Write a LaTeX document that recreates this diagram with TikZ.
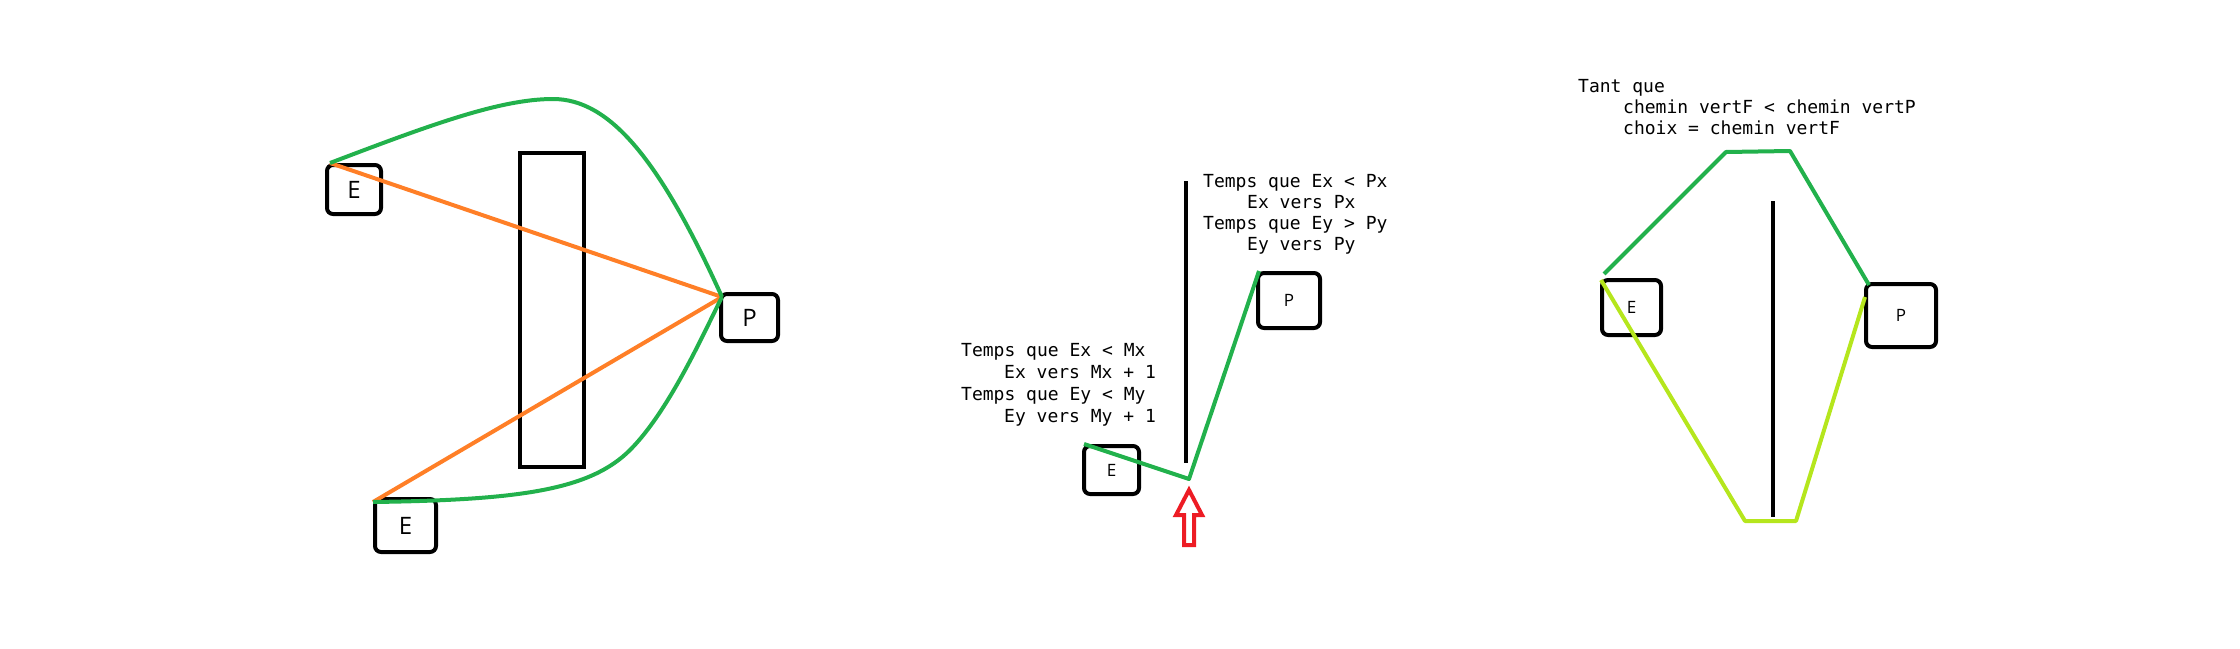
\documentclass[tikz,border=0pt]{standalone}
\usepackage{fontspec}
\setmainfont{Open Sans}
\newfontfamily\codefont{DejaVu Sans Mono}
\definecolor{pgreen}{HTML}{22B14C}
\definecolor{porange}{HTML}{FF7F27}
\definecolor{plime}{HTML}{B5E61D}
\definecolor{pred}{HTML}{ED1C24}
\tikzset{
  box/.style={draw=black, line width=4pt, rounded corners=6pt, inner sep=0pt, text=black},
  bigbox/.style={box, font=\fontsize{24}{24}\selectfont},
  smallbox/.style={box, font=\fontsize{17}{17}\selectfont},
  wall/.style={draw=black, line width=4pt},
  gpath/.style={draw=pgreen, line width=4pt, line join=round},
  opath/.style={draw=porange, line width=4pt},
  lpath/.style={draw=plime, line width=4pt, line join=round},
  code/.style={anchor=base west, inner sep=0pt, font=\codefont\fontsize{18}{21}\selectfont}
}
\begin{document}
\begin{tikzpicture}[x=1pt, y=-1pt]
\useasboundingbox (0,0) rectangle (2240,648);
% ---------- diagram 1 ----------
\node[bigbox, minimum width=54pt, minimum height=49pt] (E1) at (354,189.5) {E};
\node[bigbox, minimum width=61pt, minimum height=53pt] (E2) at (405.5,525.5) {E};
\node[bigbox, minimum width=57pt, minimum height=47pt] (P1) at (749.5,317.5) {P};
\draw[wall] (520,153) rectangle (584,467);
\coordinate (a1) at (330,163);
\coordinate (a2) at (373,502);
\coordinate (ap) at (722,297);
\draw[opath] (a1) -- (ap);
\draw[opath] (a2) -- (ap);
\draw[gpath] (a1) .. controls (430,125) and (500,99) .. (553,99)
  .. controls (610,99) and (660,160) .. (ap);
\draw[gpath] (a2) .. controls (520,500) and (590,490) .. (630,450)
  .. controls (670,410) and (705,330) .. (ap);
% ---------- diagram 2 ----------
\draw[wall] (1186,181) -- (1186,463);
\node[smallbox, minimum width=55pt, minimum height=48pt] (E3) at (1111.5,470) {E};
\node[smallbox, minimum width=62pt, minimum height=55pt] (P3) at (1289,300.5) {P};
\coordinate (b1) at (1084,444);
\coordinate (bm) at (1189,479);
\coordinate (bp) at (1259,271);
\draw[gpath] (b1) -- (bm) -- (bp);
\draw[draw=pred, line width=4pt, line join=miter]
  (1189,490) -- (1202,515) -- (1194,515) -- (1194,545) -- (1184,545) -- (1184,515) -- (1176,515) -- cycle;
\node[code] (ta1) at (1203,187) {Temps que Ex < Px};
\node[code] (ta2) at (1247,208) {Ex vers Px};
\node[code] (ta3) at (1203,229) {Temps que Ey > Py};
\node[code] (ta4) at (1247,250) {Ey vers Py};
\node[code] (tb1) at (961,356) {Temps que Ex < Mx};
\node[code] (tb2) at (1004,378) {Ex vers Mx + 1};
\node[code] (tb3) at (961,400) {Temps que Ey < My};
\node[code] (tb4) at (1004,422) {Ey vers My + 1};
% ---------- diagram 3 ----------
\node[code] (tc1) at (1578,92) {Tant que};
\node[code] (tc2) at (1623,113) {chemin vertF < chemin vertP};
\node[code] (tc3) at (1623,134) {choix = chemin vertF};
\draw[wall] (1773,201) -- (1773,517);
\node[smallbox, minimum width=59pt, minimum height=55pt] (E4) at (1631.5,307.5) {E};
\node[smallbox, minimum width=70pt, minimum height=63pt] (P4) at (1901,315.5) {P};
\coordinate (c1) at (1604,274);
\coordinate (c2) at (1726,152);
\coordinate (c3) at (1790,151);
\coordinate (c4) at (1869,285);
\draw[gpath] (c1) -- (c2) -- (c3) -- (c4);
\coordinate (d1) at (1601,280);
\coordinate (d2) at (1745,521);
\coordinate (d3) at (1796,521);
\coordinate (d4) at (1865,297);
\draw[lpath] (d1) -- (d2) -- (d3) -- (d4);
\end{tikzpicture}
\end{document}
